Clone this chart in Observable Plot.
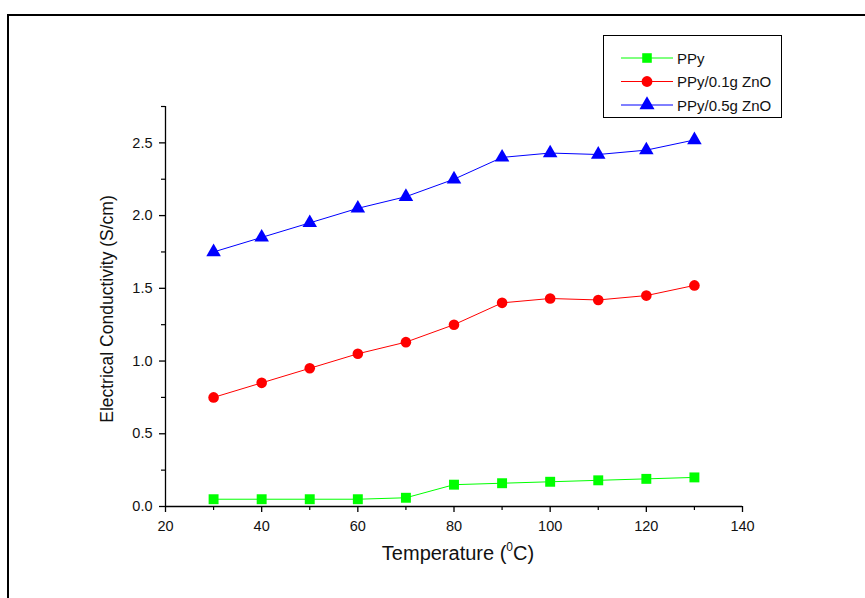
<!DOCTYPE html>
<html>
<head>
<meta charset="utf-8">
<script src="https://cdn.jsdelivr.net/npm/d3@7"></script>
<script src="https://cdn.jsdelivr.net/npm/@observablehq/plot@0.6"></script>
<style>
  html, body { margin: 0; padding: 0; background: #fff; overflow: hidden; }
  #wrap { position: relative; width: 865px; height: 598px; font-family: "Liberation Sans", Arial, sans-serif; }
  #frame { position: absolute; left: 7px; top: 14px; width: 880px; height: 620px; border: 2px solid #000; box-sizing: border-box; pointer-events: none; }
  #legend { position: absolute; left: 603px; top: 35px; width: 179px; height: 83px; border: 1px solid #000; box-sizing: border-box; background: #fff; }
  #xlabel { position: absolute; left: 308px; top: 541px; width: 300px; text-align: center; font-size: 20px; line-height: 24px; color: #111; white-space: nowrap; }
  #xlabel sup { font-size: 12px; vertical-align: 9px; line-height: 0; }
  #ylabel { position: absolute; left: 107px; top: 309px; width: 300px; margin-left: -150px; margin-top: -11px; line-height: 22px; text-align: center; font-size: 17.5px; color: #111; transform: rotate(-90deg); white-space: nowrap; }
  #chart { position: absolute; left: 0; top: 0; }
</style>
</head>
<body>
<div id="wrap">
  <div id="chart"></div>
  <div id="frame"></div>
  <div id="legend"></div>
  <div id="xlabel">Temperature (<sup>0</sup>C)</div>
  <div id="ylabel">Electrical Conductivity (S/cm)</div>
</div>
<script>
const temperature = [30, 40, 50, 60, 70, 80, 90, 100, 110, 120, 130];
const ppy       = [0.05, 0.05, 0.05, 0.05, 0.06, 0.15, 0.16, 0.17, 0.18, 0.19, 0.20];
const ppyZnO01  = [0.75, 0.85, 0.95, 1.05, 1.13, 1.25, 1.40, 1.43, 1.42, 1.45, 1.52];
const ppyZnO05  = [1.75, 1.85, 1.95, 2.05, 2.13, 2.25, 2.40, 2.43, 2.42, 2.45, 2.52];
const seriesNames = ["PPy", "PPy/0.1g ZnO", "PPy/0.5g ZnO"];
const seriesColors = ["#00ff00", "#ff0000", "#0000ff"];
const seriesSymbols = ["square", "circle", "triangle"];
const xTicks = [20, 40, 60, 80, 100, 120, 140];
const xMinor = [30, 50, 70, 90, 110, 130];
const yTicks = [0, 0.5, 1.0, 1.5, 2.0, 2.5];
const yMinor = [0.25, 0.75, 1.25, 1.75, 2.25, 2.75];

const allSeries = [ppy, ppyZnO01, ppyZnO05];
const data = [];
allSeries.forEach((vals, i) => vals.forEach((v, j) => data.push({series: seriesNames[i], t: temperature[j], v})));

const marks = [
  Plot.ruleX([20], {y1: 0, y2: 2.75, stroke: "#000", strokeWidth: 1.3}),
  Plot.ruleY([0], {x1: 20, x2: 140, stroke: "#000", strokeWidth: 1.3}),
  Plot.axisX(xTicks, {tickSize: 6, tickPadding: 8, tickFormat: d => d, stroke: "#000", strokeWidth: 1.3, label: null}),
  Plot.axisX(xMinor, {tickSize: 4, tickFormat: () => "", stroke: "#000", strokeWidth: 1.2, label: null}),
  Plot.axisY(yTicks, {tickSize: 6, tickPadding: 7, tickFormat: d3.format(".1f"), stroke: "#000", strokeWidth: 1.3, label: null}),
  Plot.axisY(yMinor, {tickSize: 4, tickFormat: () => "", stroke: "#000", strokeWidth: 1.2, label: null}),
];
seriesNames.forEach((name, i) => {
  const d = data.filter(r => r.series === name);
  marks.push(Plot.line(d, {x: "t", y: "v", stroke: seriesColors[i], strokeWidth: 1}));
  marks.push(Plot.dot(d, {x: "t", y: "v", symbol: () => seriesSymbols[i], fill: seriesColors[i], stroke: "none",
    r: seriesSymbols[i] === "triangle" ? 5.4 : seriesSymbols[i] === "square" ? 5.6 : 5.3}));
});

const plot = Plot.plot({
  width: 865,
  height: 598,
  marginLeft: 165,
  marginRight: 123,
  marginTop: 106,
  marginBottom: 92,
  style: {fontFamily: "'Liberation Sans', Arial, sans-serif", background: "transparent", color: "#111"},
  x: {type: "linear", domain: [20, 140]},
  y: {type: "linear", domain: [0, 2.75]},
  marks
});
document.getElementById("chart").appendChild(plot);
d3.select(plot).selectAll("text").style("font-size", "14.5px").style("fill", "#111");

// legend
const leg = d3.select("#legend").append("svg").attr("width", 177).attr("height", 81);
seriesNames.forEach((name, i) => {
  const y = 22 + i * 23.5;
  leg.append("line").attr("x1", 17).attr("x2", 69).attr("y1", y).attr("y2", y).style("stroke", seriesColors[i]).style("stroke-width", "1px");
  const sym = d3.symbol().type(i === 0 ? d3.symbolSquare : i === 1 ? d3.symbolCircle : d3.symbolTriangle)
    .size(i === 2 ? Math.PI * 5.6 * 5.6 : Math.PI * 5.4 * 5.4);
  leg.append("path").attr("d", sym()).attr("transform", `translate(43,${y})`).style("fill", seriesColors[i]);
  leg.append("text").attr("x", 73).attr("y", y + 5.5).style("font-size", "15px").style("fill", "#111")
    .style("font-family", "'Liberation Sans', Arial, sans-serif").text(name);
});
</script>
</body>
</html>
